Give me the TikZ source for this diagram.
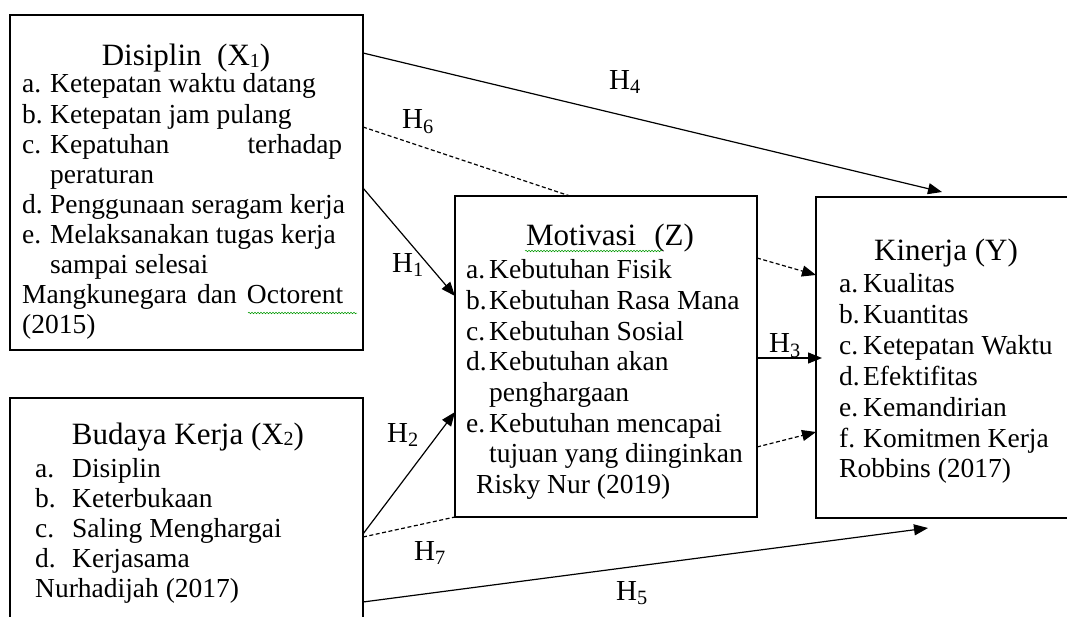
\documentclass[tikz,border=0pt]{standalone}
\usepackage{fontspec}
\setmainfont{Liberation Serif}
\usetikzlibrary{arrows.meta,calc,decorations.pathmorphing}

\newlength{\itmind}
\newcommand{\itm}[2]{\makebox[\itmind][l]{#1}#2}
\newcommand{\varsub}[1]{\raisebox{-1.5pt}{\fontsize{20}{20}\selectfont #1}}

\tikzset{
  varbox/.style={draw, line width=2.2pt, inner sep=0pt, outer sep=0pt, anchor=north west},
  vartitle/.style={font=\fontsize{31}{36}\selectfont, anchor=base, inner sep=0pt},
  varline/.style={font=\fontsize{27.5}{30}\selectfont, anchor=base west, inner sep=0pt},
  hyp/.style={line width=1.2pt, -{Triangle[length=14pt,width=11pt]}},
  hypdash/.style={hyp, dash pattern=on 4pt off 2.5pt},
  hlabel/.style={font=\fontsize{29}{30}\selectfont, inner sep=0pt},
  spell/.style={decorate, decoration={snake, amplitude=0.8pt, segment length=3pt},
    green!60!black, line width=0.5pt},
}

\begin{document}
\begin{tikzpicture}[x=1pt,y=-1pt]
  \useasboundingbox (0,0) rectangle (1067,617);

  % the four variable boxes
  \node[varbox, minimum width=353pt, minimum height=335pt] (X1) at (10,15) {};
  \node[varbox, minimum width=353pt, minimum height=232pt] (X2) at (10,398) {};
  \node[varbox, minimum width=302pt, minimum height=321pt] (Z) at (455,196) {};
  \node[varbox, minimum width=260pt, minimum height=321pt] (Y) at (816,197) {};

  % titles
  \node[vartitle] (X1t) at (186,66) {Disiplin\ \ (X\varsub{1})};
  \node[vartitle] (X2t) at (188,444) {Budaya Kerja (X\varsub{2})};
  \node[vartitle] (Zt) at (610,246) {Motivasi\hspace{18pt}(Z)};
  \node[vartitle] (Yt) at (946,261) {Kinerja (Y)};

  % indicators
  \setlength{\itmind}{28pt}
  \foreach \ln [count=\i from 0] in {
      {\itm{a.}{Ketepatan waktu datang}},
      {\itm{b.}{Ketepatan jam pulang}},
      {\itm{c.}{\makebox[292pt][s]{Kepatuhan terhadap}}},
      {\itm{}{peraturan}},
      {\itm{d.}{Penggunaan seragam kerja}},
      {\itm{e.}{Melaksanakan tugas kerja}},
      {\itm{}{sampai selesai}},
      {\makebox[321pt][s]{Mangkunegara dan Octorent}},
      {(2015)}}
    \node[varline] (X1l\i) at (22,93+30.1*\i) {\ln};

  \setlength{\itmind}{37pt}
  \foreach \ln [count=\i from 0] in {
      {\itm{a.}{Disiplin}},
      {\itm{b.}{Keterbukaan}},
      {\itm{c.}{Saling Menghargai}},
      {\itm{d.}{Kerjasama}},
      {Nurhadijah (2017)}}
    \node[varline] (X2l\i) at (35,477+30*\i) {\ln};

  \setlength{\itmind}{23pt}
  \foreach \ln [count=\i from 0] in {
      {\itm{a.}{Kebutuhan Fisik}},
      {\itm{b.}{Kebutuhan Rasa Mana}},
      {\itm{c.}{Kebutuhan Sosial}},
      {\itm{d.}{Kebutuhan akan}},
      {\itm{}{penghargaan}},
      {\itm{e.}{Kebutuhan mencapai}},
      {\itm{}{tujuan yang diinginkan}},
      {\hspace*{10pt}Risky Nur (2019)}}
    \node[varline] (Zl\i) at (466,279+30.6*\i) {\ln};

  \setlength{\itmind}{24pt}
  \foreach \ln [count=\i from 0] in {
      {\itm{a.}{Kualitas}},
      {\itm{b.}{Kuantitas}},
      {\itm{c.}{Ketepatan Waktu}},
      {\itm{d.}{Efektifitas}},
      {\itm{e.}{Kemandirian}},
      {\itm{f.}{Komitmen Kerja}},
      {Robbins (2017)}}
    \node[varline] (Yl\i) at (839,293+30.8*\i) {\ln};

  % spell-check marks
  \draw[spell] (525,251) -- (662,251);
  \draw[spell] (248,313) -- (357,313);

  % hypotheses
  \draw[hyp] ($(X1.north east)+(0,38)$) -- ($(Y.north west)+(126,-5)$);
  \draw[hypdash, -] ($(X1.north east)+(0,112)$) -- ($(Z.north west)+(115,0)$);
  \draw[hyp] ($(X1.north east)+(0,173)$) -- ($(Z.north west)+(0,100)$);
  \draw[hyp] ($(X2.north east)+(0,136)$) -- ($(Z.south west)+(0,-105)$);
  \draw[hypdash, -] ($(X2.north east)+(0,139)$) -- (Z.south west);
  \draw[hyp] ($(X2.north east)+(0,204)$) -- ($(Y.south west)+(112,10)$);
  \draw[hypdash] ($(Z.north east)+(0,62)$) -- ($(Y.north west)+(0,78)$);
  \draw[hyp, shorten >=-6pt] ($(Z.north east)+(0,162)$) -- ($(Y.north west)+(0,161)$);
  \draw[hypdash] ($(Z.north east)+(0,251)$) -- ($(Y.north west)+(0,235)$);

  \node[hlabel] (h1) at (408,265) {H\textsubscript{1}};
  \node[hlabel] (h2) at (403,435) {H\textsubscript{2}};
  \node[hlabel] (h3) at (785,346) {H\textsubscript{3}};
  \node[hlabel] (h4) at (625,82) {H\textsubscript{4}};
  \node[hlabel] (h5) at (632,593) {H\textsubscript{5}};
  \node[hlabel] (h6) at (418,122) {H\textsubscript{6}};
  \node[hlabel] (h7) at (430,553) {H\textsubscript{7}};
\end{tikzpicture}
\end{document}
